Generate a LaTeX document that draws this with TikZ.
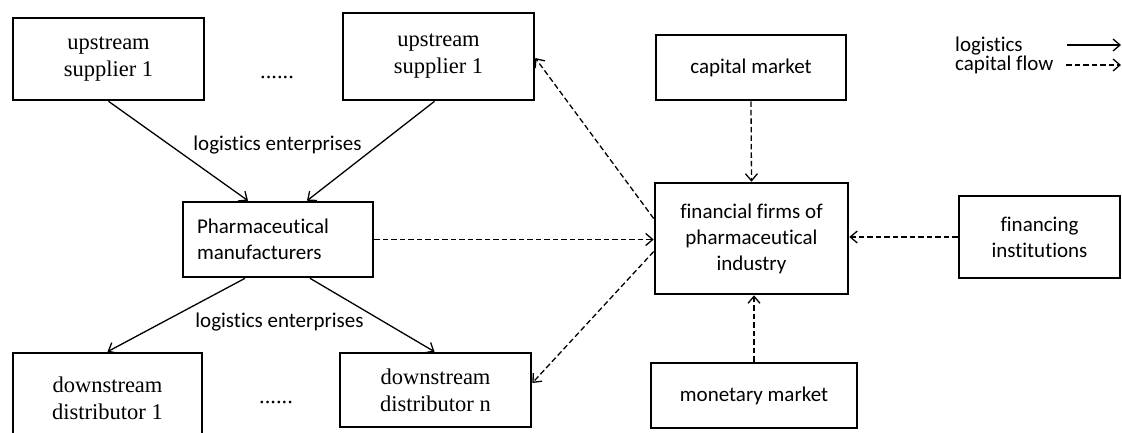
\documentclass[tikz,border=0pt]{standalone}
\usepackage{fontspec}
\setmainfont{Carlito}[Ligatures={NoCommon}]
\newfontfamily\seriffont{Liberation Serif}
\usetikzlibrary{arrows.meta,calc}
\begin{document}
\begin{tikzpicture}[x=1pt,y=-1pt,
  box/.style={draw,line width=2.6pt,inner sep=0pt,align=center},
  sans/.style={font=\fontsize{21}{26}\selectfont},
  serif/.style={font=\seriffont\fontsize{22.5}{27}\selectfont},
  flow/.style={line width=1.3pt,-{Straight Barb[length=7pt,width=12pt,line width=1.3pt]}},
  cflow/.style={flow,dash pattern=on 5.5pt off 3pt}]
\useasboundingbox (0,0) rectangle (1122,432);
\clip (0,0) rectangle (1122,432);
% boxes
\node[box,serif,minimum width=191pt,minimum height=82pt] (up1) at (108.5,59) {upstream\\supplier 1};
\node[box,serif,minimum width=191pt,minimum height=87pt] (up2) at (438.5,56.5) {upstream\\supplier 1};
\node[serif,anchor=base] (dt1) at (277,78) {......};
\node[box,sans,minimum width=190pt,minimum height=75pt,text width=162pt,inner xsep=14pt,align=left] (ph) at (278,239.5) {Pharmaceutical\\manufacturers};
\node[box,sans,minimum width=190pt,minimum height=65pt] (cap) at (751,67.5) {capital market};
\node[box,sans,minimum width=193pt,minimum height=111pt] (fin) at (751.5,238.5) {financial firms of\\pharmaceutical\\industry};
\node[box,sans,minimum width=161pt,minimum height=82pt] (fi) at (1039.5,237) {financing\\institutions};
\node[box,sans,minimum width=206pt,minimum height=65pt] (mon) at (754,395.5) {monetary market};
\node[box,serif,minimum width=189pt,minimum height=91pt] (d1) at (107.5,398.5) {downstream\\distributor 1};
\node[serif,anchor=base] (dt2) at (276,403) {......};
\node[box,serif,minimum width=191pt,minimum height=74pt] (dn) at (435.5,390) {downstream\\distributor n};
% labels
\node[sans] (l1) at (277.5,145) {logistics enterprises};
\node[sans] (l2) at (279.5,322) {logistics enterprises};
% legend
\node[sans,anchor=west,inner sep=0pt] (lg1) at (955,46) {logistics};
\node[sans,anchor=west,inner sep=0pt] (lg2) at (955,65) {capital flow};
\coordinate (a1s) at (1067,45);
\coordinate (a1e) at (1121,45);
\coordinate (a2s) at (1066,65);
\coordinate (a2e) at (1121,65);
\draw[flow] (a1s) -- (a1e);
\draw[cflow] (a2s) -- (a2e);
% logistics flows
\draw[flow] (up1.south) -- ($(ph.north)+(-30,0)$);
\draw[flow] ($(up2.south)+(-4,0)$) -- ($(ph.north)+(29,0)$);
\draw[flow] ($(ph.south)+(-33,0)$) -- (d1.north);
\draw[flow] ($(ph.south)+(32,0)$) -- ($(dn.north)+(-1,0)$);
% capital flows
\draw[cflow] (ph.east) -- (ph.east -| fin.west);
\draw[cflow] ($(fin.west)+(0,-20)$) -- ($(up2.east)+(0,1.5)$);
\draw[cflow] ($(fin.west)+(0,13)$) -- ($(dn.east)+(0,-7)$);
\draw[cflow] (cap.south) -- (fin.north);
\draw[cflow] (fi.west) -- (fi.west -| fin.east);
\draw[cflow] (mon.north) -- (mon.north |- fin.south);
\end{tikzpicture}
\end{document}
